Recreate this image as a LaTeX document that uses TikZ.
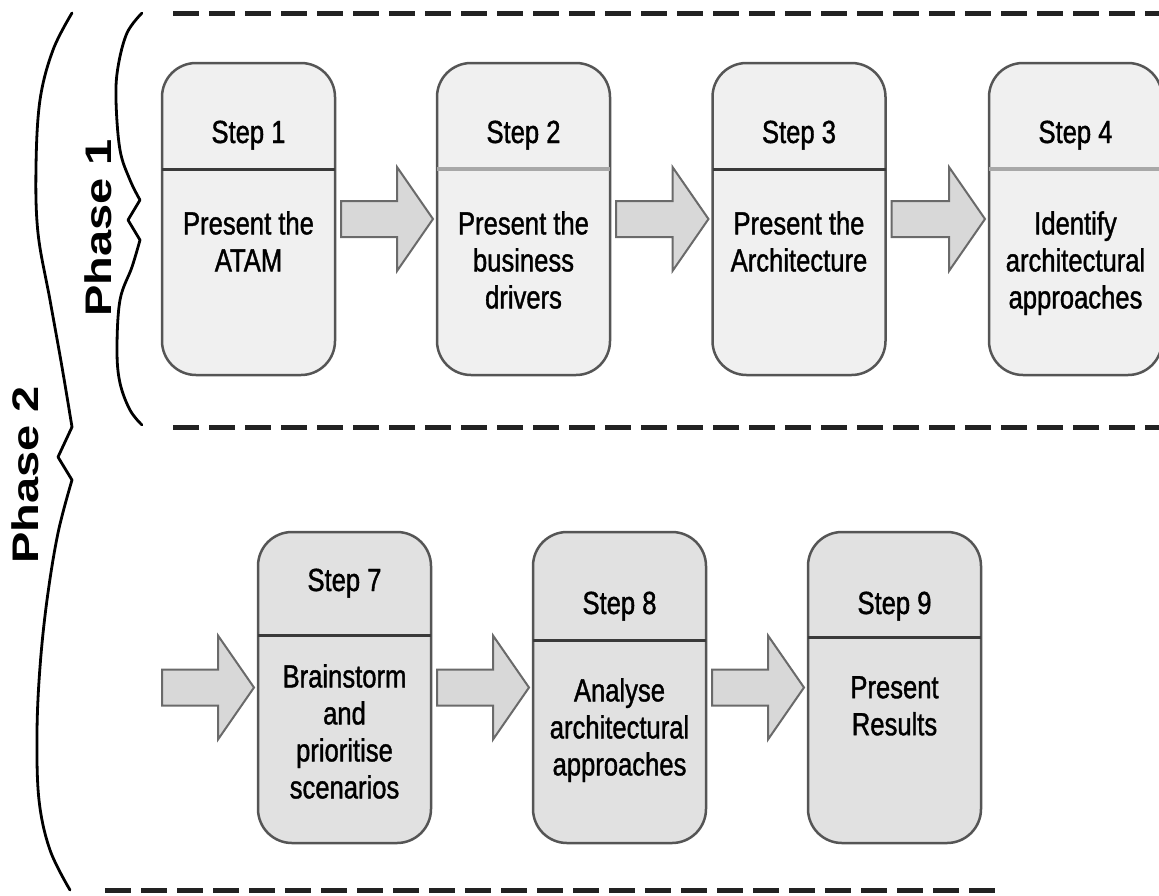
\documentclass[tikz,border=0pt]{standalone}
\usepackage{fontspec}
\setmainfont{Liberation Sans}
\newfontfamily\stepfont[FakeStretch=0.8,FakeBold=1.2]{Liberation Sans}
\newfontfamily\phasefont[FakeStretch=1.27]{Liberation Sans}
\usetikzlibrary{calc}
\definecolor{boxedge}{HTML}{555555}
\definecolor{fillone}{HTML}{F0F0F0}
\definecolor{filltwo}{HTML}{E1E1E1}
\definecolor{arrowfill}{HTML}{D8D8D8}
\definecolor{arrowedge}{HTML}{6A6A6A}
\definecolor{hdrlight}{HTML}{A8A8A8}
\definecolor{hdrdark}{HTML}{3A3A3A}
\definecolor{dashcol}{HTML}{222222}

% block arrow from the east side of #1 to the west side of #2
\newcommand\flowarrow[2]{%
  \draw[flowarr] ($(#1)+(6,-18)$) -- ($(#2.west)+(-40,-18)$)
    -- ($(#2.west)+(-40,-52)$) -- ($(#2.west)+(-4,0)$)
    -- ($(#2.west)+(-40,52)$) -- ($(#2.west)+(-40,18)$)
    -- ($(#1)+(6,18)$) -- cycle;}

\begin{document}
\begin{tikzpicture}[x=1pt,y=-1pt,
  stepbox/.style={draw=boxedge, line width=2.5pt, rounded corners=34pt,
    minimum width=173pt, minimum height=312pt, inner sep=0pt, outer sep=0pt},
  phaseone/.style={stepbox, fill=fillone},
  phasetwo/.style={stepbox, fill=filltwo},
  hdrline/.style={line width=3pt, draw=hdrdark},
  hdrpale/.style={line width=3.5pt, draw=hdrlight},
  steptitle/.style={anchor=base, inner sep=0pt,
    font=\stepfont\fontsize{32}{37}\selectfont},
  stepbody/.style={anchor=north, inner sep=0pt, align=center,
    font=\stepfont\fontsize{32}{37}\selectfont},
  flowarr/.style={fill=arrowfill, draw=arrowedge, line width=2pt, line join=miter},
  phaselabel/.style={rotate=90, inner sep=0pt,
    font=\phasefont\bfseries\fontsize{37}{40}\selectfont},
  brace/.style={line width=2.8pt, draw=black, line join=round, line cap=round},
  sep/.style={line width=5pt, draw=dashcol, dash pattern=on 26pt off 10pt}
]
\useasboundingbox (0,0) rectangle (1159,895);
\clip (0,0) rectangle (1159,895);

% separators
\draw[sep] (173,13) -- (1159,13);
\draw[sep] (173,427) -- (1159,427);
\draw[sep] (105,890) -- (1005,890);

% braces
\draw[brace] plot[smooth, tension=0.6] coordinates {(142,13) (127,33) (118,67) (116,100) (120,150) (130,180) (140,200)}
  -- (128,220) -- (140,240)
  -- plot[smooth, tension=0.6] coordinates {(140,240) (132,267) (120,300) (117,350) (120,383) (130,410) (142,425)};
\draw[brace] plot[smooth, tension=0.6] coordinates {(72,13) (53,50) (40,100) (36,167) (38,233) (50,300) (62,367) (72,427)}
  -- (58,457) -- (72,480)
  -- plot[smooth, tension=0.6] coordinates {(72,480) (58,533) (47,600) (40,667) (37,733) (39,800) (50,850) (70,890)};

\node[phaselabel] (p1) at (98,228) {Phase 1};
\node[phaselabel] (p2) at (25,475) {Phase 2};

% phase 1 steps
\node[phaseone] (s1) at (248.5,219) {};
\node[phaseone] (s2) at (523.5,219) {};
\node[phaseone] (s3) at (799,219) {};
\node[phaseone] (s4) at (1075.5,219) {};
\draw[hdrline] (s1.west |- 0,169) -- (s1.east |- 0,169);
\draw[hdrpale] (s2.west |- 0,169) -- (s2.east |- 0,169);
\draw[hdrline] (s3.west |- 0,169) -- (s3.east |- 0,169);
\draw[hdrpale] (s4.west |- 0,169) -- (s4.east |- 0,169);

\node[steptitle] (t1) at (248.5,143) {Step 1};
\node[steptitle] (t2) at (523.5,143) {Step 2};
\node[steptitle] (t3) at (799,143) {Step 3};
\node[steptitle] (t4) at (1075.5,143) {Step 4};
\node[stepbody] (b1) at (248.5,211) {Present the\\ATAM};
\node[stepbody] (b2) at (523.5,211) {Present the\\business\\drivers};
\node[stepbody] (b3) at (799,211) {Present the\\Architecture};
\node[stepbody] (b4) at (1075.5,211) {Identify\\architectural\\approaches};

\flowarrow{s1.east}{s2}
\flowarrow{s2.east}{s3}
\flowarrow{s3.east}{s4}

% phase 2 steps
\node[phasetwo, minimum height=311pt] (s7) at (344.5,687.5) {};
\node[phasetwo, minimum height=311pt] (s8) at (619.5,687.5) {};
\node[phasetwo, minimum height=311pt] (s9) at (894.5,687.5) {};
\draw[hdrline] (s7.west |- 0,635) -- (s7.east |- 0,635);
\draw[hdrline] (s8.west |- 0,640) -- (s8.east |- 0,640);
\draw[hdrline] (s9.west |- 0,637) -- (s9.east |- 0,637);

\node[steptitle] (t7) at (344.5,591) {Step 7};
\node[steptitle] (t8) at (619.5,614) {Step 8};
\node[steptitle] (t9) at (894.5,614) {Step 9};
\node[stepbody] (b7) at (344.5,664) {Brainstorm\\and\\prioritise\\scenarios};
\node[stepbody] (b8) at (619.5,678) {Analyse\\architectural\\approaches};
\node[stepbody] (b9) at (894.5,676) {Present\\Results};

\coordinate (in7) at (156,687.5);
\flowarrow{in7}{s7}
\flowarrow{s7.east}{s8}
\flowarrow{s8.east}{s9}
\end{tikzpicture}
\end{document}
